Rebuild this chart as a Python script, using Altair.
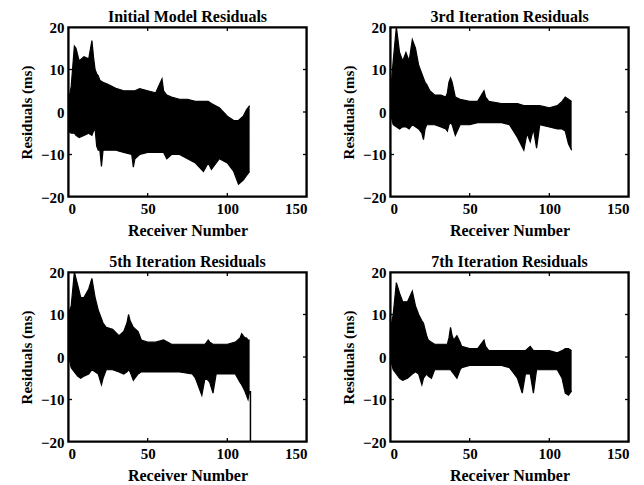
import altair as alt
import pandas as pd

titles = ["Initial Model Residuals", "3rd Iteration Residuals",
          "5th Iteration Residuals", "7th Iteration Residuals"]
x_ticks = [0, 50, 100, 150]
y_ticks = [-20, -10, 0, 10, 20]

# Panel 1: Initial model residuals (envelope of all traces)
p1_rx = [0, 2, 4, 5, 7, 10, 13, 15, 16, 17, 18, 19, 20, 21, 22, 25, 30, 35, 40, 41, 42, 45, 50, 55,
         59, 60, 62, 65, 70, 75, 80, 85, 88, 90, 95, 100, 104, 107, 110, 112, 114]
p1_hi = [2, 6, 15.5, 15, 12, 13, 12.5, 16.8, 13, 10, 9, 8.5, 7.5, 7.2, 7, 6.5, 5.6, 5, 5, 5, 5, 5.5, 5, 4.5,
         7.8, 5, 4, 3.5, 3, 3, 2.5, 2.5, 2.5, 2, 1, -1, -2, -2, -1, 0.5, 1.5]
p1_lo = [-4.5, -5, -5, -5.5, -6, -5.5, -5, -5.5, -4.5, -4, -8, -9, -9, -12.8, -9, -9, -9, -9.5, -10, -13, -11, -10, -9.5, -9.5,
         -9.5, -9.5, -11, -10, -10, -11, -12, -14, -12, -13.5, -11, -12, -14, -17, -16, -15, -14]

# Panel 2: 3rd iteration
p2_rx = [0, 2, 4, 6, 8, 10, 12, 14, 16, 18, 20, 21, 22, 23, 25, 28, 32, 35, 36, 37, 38, 39, 41, 44, 50, 55,
         59, 60, 62, 70, 75, 80, 84, 86, 88, 90, 92, 94, 100, 105, 108, 110, 112, 114]
p2_hi = [3, 12, 20, 14, 12, 14, 12, 17, 15, 11, 9, 8, 7, 6.5, 5, 4, 4, 3.5, 4.5, 7, 8, 7, 3.5, 3, 2.5, 2.5,
         5, 3.5, 2.5, 2, 2, 2, 1.5, 1.5, 1.5, 1.5, 1.5, 1.5, 1, 1.5, 2.5, 3.5, 3, 2.5]
p2_lo = [0, -3, -3.5, -4, -3.5, -3.5, -4, -3, -3.5, -4, -5, -6.5, -4, -3, -3, -3, -3.5, -4, -4.5, -3, -2.5, -3, -5.5, -3, -3, -2.5,
         -2.5, -2.5, -2.5, -2.5, -3, -6, -9, -5, -7, -4, -8.5, -3, -3.5, -4, -4, -4.5, -7.5, -9]

# Panel 3: 5th iteration
p3_rx = [0, 2, 4, 6, 8, 10, 13, 15, 17, 19, 21, 22, 24, 28, 32, 35, 37, 38, 39, 41, 44, 46, 50, 55, 60, 65,
         70, 78, 80, 82, 84, 86, 88, 89, 91, 93, 100, 105, 108, 109, 111, 112, 113, 114]
p3_hi = [10, 12, 20, 17, 14, 14, 16, 18.5, 14, 11, 9, 8, 7, 6.5, 5, 6, 8, 10, 8.5, 7, 6, 4, 3.5, 3.5, 4, 3,
         3, 3, 3, 3, 3, 3, 4, 3.5, 3, 3, 3, 3.5, 4.5, 5.5, 4.5, 4.5, 4, 4]
p3_lo = [1, -2.5, -3.5, -4.5, -5, -4.5, -4, -3, -3.5, -4, -6.5, -5, -3, -3, -3.5, -4, -3.5, -3, -3.5, -5.5, -4, -3.5, -3.5, -3.5, -3.5, -3.5,
         -3.5, -4, -5, -7, -9, -5, -5.5, -6, -8.5, -4, -4, -4, -6, -6.5, -8, -9, -10, -8]
p3_drop_x = [114.5, 114.5]
p3_drop_y = [-8, -20]

# Panel 4: 7th iteration
p4_rx = [0, 2, 4, 6, 8, 11, 14, 16, 18, 20, 21, 23, 24, 26, 28, 32, 36, 37, 38, 39, 40, 42, 44, 45, 50, 55,
         59, 60, 62, 70, 75, 80, 83, 85, 88, 90, 92, 100, 105, 108, 110, 112, 114]
p4_hi = [6, 10, 17.5, 15, 13, 13, 15.5, 12, 10, 8.5, 8, 5, 4, 3.5, 3, 3, 3, 4.5, 7, 5, 4, 5, 3.5, 2.5, 2, 2,
         4, 2.5, 1.5, 1.5, 1.5, 1.5, 1.5, 1.5, 2.5, 1.5, 1.5, 1.5, 1, 1.5, 2, 2, 1.5]
p4_lo = [0, -3, -4, -5, -5.5, -5, -4, -3.5, -4, -6.5, -5, -4, -4.5, -5, -3, -3, -3, -3, -3, -3.5, -4, -5, -3, -2.5, -2, -2,
         -2, -2, -2, -2, -2.5, -5, -8.5, -4, -4, -8.5, -3, -3, -3, -5, -8.5, -9, -8]

W, H = 239, 170
FONT = "Liberation Serif"
X0, X1 = x_ticks[0], x_ticks[-1]
Y0, Y1 = y_ticks[0], y_ticks[-1]
PX = (X1 - X0) / W   # one pixel in data units
PY = (Y1 - Y0) / H

xs = alt.Scale(domain=[X0, X1], nice=False, zero=False)
ys = alt.Scale(domain=[Y0, Y1], nice=False, zero=False)
xa = alt.Axis(title="Receiver Number", values=x_ticks, domain=False, ticks=False)
ya = alt.Axis(title="Residuals (ms)", values=y_ticks, domain=False, ticks=False)

# frame border and inward ticks as thin filled pieces (x_a..x_b, y_lo..y_hi), from the tick lists
fw, tl, tw = 1.6, 4.0, 1.3
pieces = [
    (X0, X1, Y0, Y0 + fw * PY), (X0, X1, Y1 - fw * PY, Y1),
    (X0, X0 + fw * PX, Y0, Y1), (X1 - fw * PX, X1, Y0, Y1),
]
for t in x_ticks[1:-1]:
    pieces += [(t - tw / 2 * PX, t + tw / 2 * PX, Y0, Y0 + tl * PY),
               (t - tw / 2 * PX, t + tw / 2 * PX, Y1 - tl * PY, Y1)]
for t in y_ticks[1:-1]:
    pieces += [(X0, X0 + tl * PX, t - tw / 2 * PY, t + tw / 2 * PY),
               (X1 - tl * PX, X1, t - tw / 2 * PY, t + tw / 2 * PY)]


def frame_data(tag):
    rows = []
    for i, (xa_, xb_, ylo, yhi) in enumerate(pieces):
        rows.append((tag, f"p{i}", xa_, ylo, yhi))
        rows.append((tag, f"p{i}", xb_, ylo, yhi))
    return pd.DataFrame(rows, columns=["panel", "seg", "fx", "fy", "fy2"])


def panel(title, rx, hi, lo, extra=None):
    df = pd.DataFrame({"r": rx, "hi": hi, "lo": lo})
    band = alt.Chart(df).mark_area(color="black", clip=True, interpolate="linear").encode(
        x=alt.X("r:Q", scale=xs, axis=xa),
        y=alt.Y("hi:Q", scale=ys, axis=ya),
        y2="lo:Q",
    )
    edges = [alt.Chart(df).mark_line(color="black", strokeWidth=1.2, clip=True).encode(
        x=alt.X("r:Q", scale=xs, axis=xa),
        y=alt.Y(f"{c}:Q", scale=ys, axis=ya),
    ) for c in ["hi", "lo"]]
    frame = alt.Chart(frame_data(title)).mark_area(color="black", clip=True, interpolate="linear").encode(
        x=alt.X("fx:Q", scale=xs, axis=xa),
        y=alt.Y("fy:Q", scale=ys, axis=ya),
        y2="fy2:Q",
        detail="seg:N",
    )
    layers = [band, edges[0], edges[1], frame]
    if extra is not None:
        ex = pd.DataFrame({"r": extra[0], "v": extra[1]})
        layers.append(alt.Chart(ex).mark_line(color="black", strokeWidth=1.5).encode(
            x=alt.X("r:Q", scale=xs, axis=xa), y=alt.Y("v:Q", scale=ys, axis=ya)))
    return alt.layer(*layers).properties(
        width=W, height=H,
        title=alt.TitleParams(title, font=FONT, fontSize=16, fontWeight="bold",
                              anchor="middle", frame="group", offset=-5, color="black"),
    )


c1 = panel(titles[0], p1_rx, p1_hi, p1_lo)
c2 = panel(titles[1], p2_rx, p2_hi, p2_lo)
c3 = panel(titles[2], p3_rx, p3_hi, p3_lo, extra=(p3_drop_x, p3_drop_y))
c4 = panel(titles[3], p4_rx, p4_hi, p4_lo)

chart = alt.vconcat(
    alt.hconcat(c1, c2, spacing=32),
    alt.hconcat(c3, c4, spacing=32),
    spacing=14,
).configure_view(stroke="black", strokeWidth=1.5).configure_axis(
    labelFont=FONT, titleFont=FONT, labelFontSize=15, titleFontSize=15,
    labelFontWeight="bold", titleFontWeight="bold", labelColor="black", titleColor="black",
    grid=False, labelPadding=4,
).configure_axisY(titlePadding=6).configure_axisX(titlePadding=6, titleFontSize=16).properties(
    padding={"left": 10, "top": 0, "right": 0, "bottom": 0}, background="white")

chart.save("out.html", embed_options={"renderer": "svg", "actions": False})
